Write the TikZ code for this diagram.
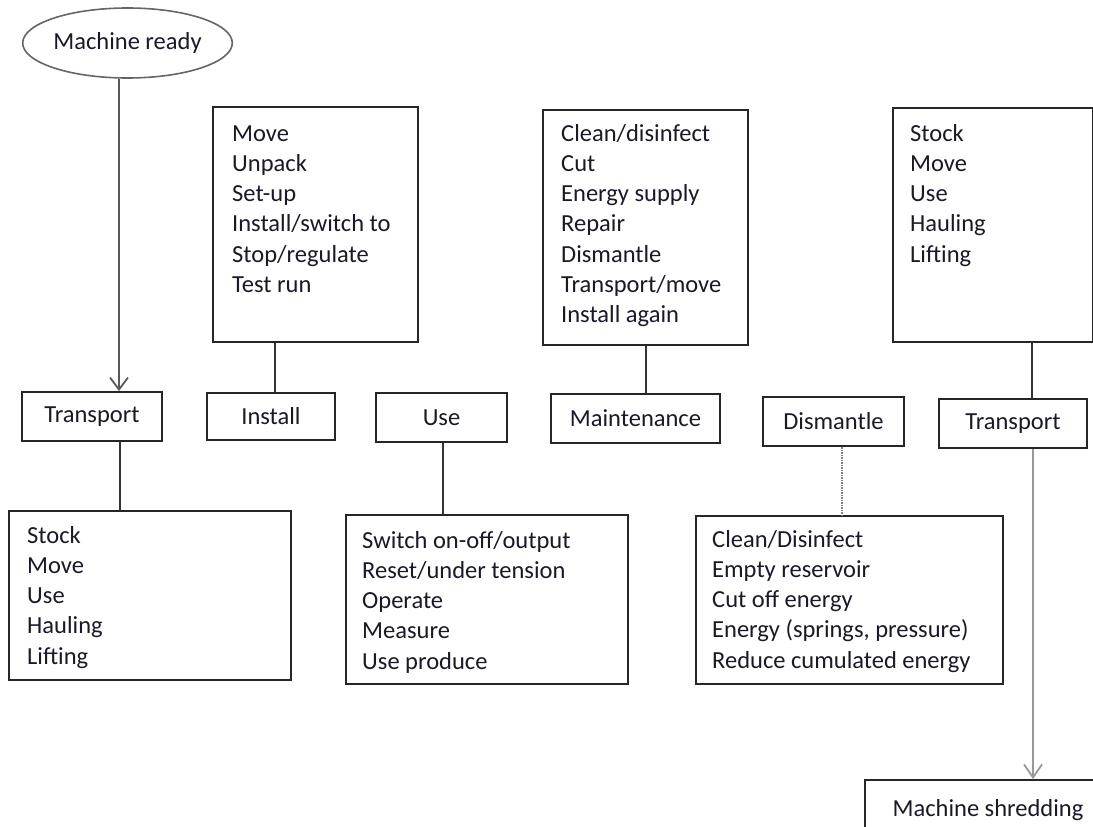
\documentclass[tikz,border=0pt]{standalone}
\usepackage{fontspec}
\setmainfont{Carlito}
\usepackage{xcolor}
\usetikzlibrary{positioning, arrows.meta, shapes.geometric}
\definecolor{ink}{RGB}{25,25,40}

\begin{document}
\begin{tikzpicture}[
  x=1pt, y=-1pt,
  font=\fontsize{24.5}{30.3}\selectfont,
  text=ink,
  stage/.style={rectangle, draw=black!85, line width=2pt, inner sep=0pt},
  list/.style={rectangle, draw=black!85, line width=2pt, inner sep=0pt, anchor=north west},
  items/.style={align=left, inner sep=0pt},
  link/.style={draw=black!80, line width=2pt},
  flow/.style={draw=black!65, line width=1.8pt, -{Straight Barb[length=12pt, width=18pt]}},
  greyflow/.style={draw=black!40, line width=2.8pt, -{Straight Barb[length=13pt, width=18pt, line width=1.8pt]}},
  dots/.style={draw=black!50, line width=1.5pt, densely dotted}
]
  \clip (0,0) rectangle (1093,827);

  \node[ellipse, draw=black!60, line width=1.6pt, minimum width=205pt, minimum height=70pt, inner sep=0pt] (ready) at (127.5,43) {Machine ready};

  % Life cycle stages.
  \node[stage, minimum width=140pt, minimum height=49pt] (transportA) at (92,416.5) {Transport};
  \node[stage, minimum width=128pt, minimum height=47pt] (install) at (271,416.5) {Install};
  \node[stage, minimum width=131pt, minimum height=49pt] (use) at (441.5,417.5) {Use};
  \node[stage, minimum width=169pt, minimum height=49pt] (maintenance) at (635.5,418.5) {Maintenance};
  \node[stage, minimum width=141pt, minimum height=49pt] (dismantle) at (833.5,421.5) {Dismantle};
  \node[stage, minimum width=148pt, minimum height=49pt] (transportB) at (1013,423.5) {Transport};
  \node[stage, minimum width=246pt, minimum height=60pt] (shredding) at (988,810) {Machine shredding};

  % Task lists above the stages.
  \node[list, minimum width=205pt, minimum height=235pt] (installList) at (212,106) {};
  \node[items, below right=13.6pt and 20pt of installList.north west] (installTxt)
    {\strut Move\\Unpack\\Set-up\\Install/switch to\\Stop/regulate\\Test run};

  \node[list, minimum width=205pt, minimum height=235pt] (maintList) at (542,109) {};
  \node[items, below right=10.6pt and 19pt of maintList.north west] (maintTxt)
    {\strut Clean/disinfect\\Cut\\Energy supply\\Repair\\Dismantle\\Transport/move\\Install again};

  \node[list, minimum width=200pt, minimum height=234pt] (stockB) at (892,107) {};
  \node[items, below right=12.6pt and 18pt of stockB.north west] (stockBTxt)
    {\strut Stock\\Move\\Use\\Hauling\\Lifting};

  % Task lists below the stages.
  \node[list, minimum width=282pt, minimum height=169pt] (stockA) at (8,510) {};
  \node[items, below right=11.6pt and 19pt of stockA.north west] (stockATxt)
    {\strut Stock\\Move\\Use\\Hauling\\Lifting};

  \node[list, minimum width=282pt, minimum height=169pt] (useList) at (345,514) {};
  \node[items, below right=12.6pt and 17pt of useList.north west] (useTxt)
    {\strut Switch on-off/output\\Reset/under tension\\Operate\\Measure\\Use produce};

  \node[list, minimum width=307pt, minimum height=168pt] (dismantleList) at (695,515) {};
  \node[items, below right=10.6pt and 17pt of dismantleList.north west] (dismantleTxt)
    {\strut Clean/Disinfect\\Empty reservoir\\Cut off energy\\Energy (springs, pressure)\\Reduce cumulated energy};

  % Connectors.
  \coordinate (tAin) at ([xshift=27pt]transportA.north);
  \draw[flow] (ready.south -| tAin) -- (tAin);
  \draw[link] ([xshift=28pt]transportA.south) -- ([xshift=28pt]transportA.south |- stockA.north);
  \draw[link] ([xshift=4pt]install.north) -- ([xshift=4pt]install.north |- installList.south);
  \draw[link] ([xshift=1.5pt]use.south) -- ([xshift=1.5pt]use.south |- useList.north);
  \draw[link] (maintList.south) -- (maintList.south |- maintenance.north);
  \draw[dots] ([xshift=8.5pt]dismantle.south) -- ([xshift=8.5pt]dismantle.south |- dismantleList.north);
  \draw[link] ([xshift=19pt]transportB.north) -- ([xshift=19pt]transportB.north |- stockB.south);
  \draw[greyflow] ([xshift=20pt]transportB.south) -- ([xshift=20pt]transportB.south |- shredding.north);
\end{tikzpicture}
\end{document}
